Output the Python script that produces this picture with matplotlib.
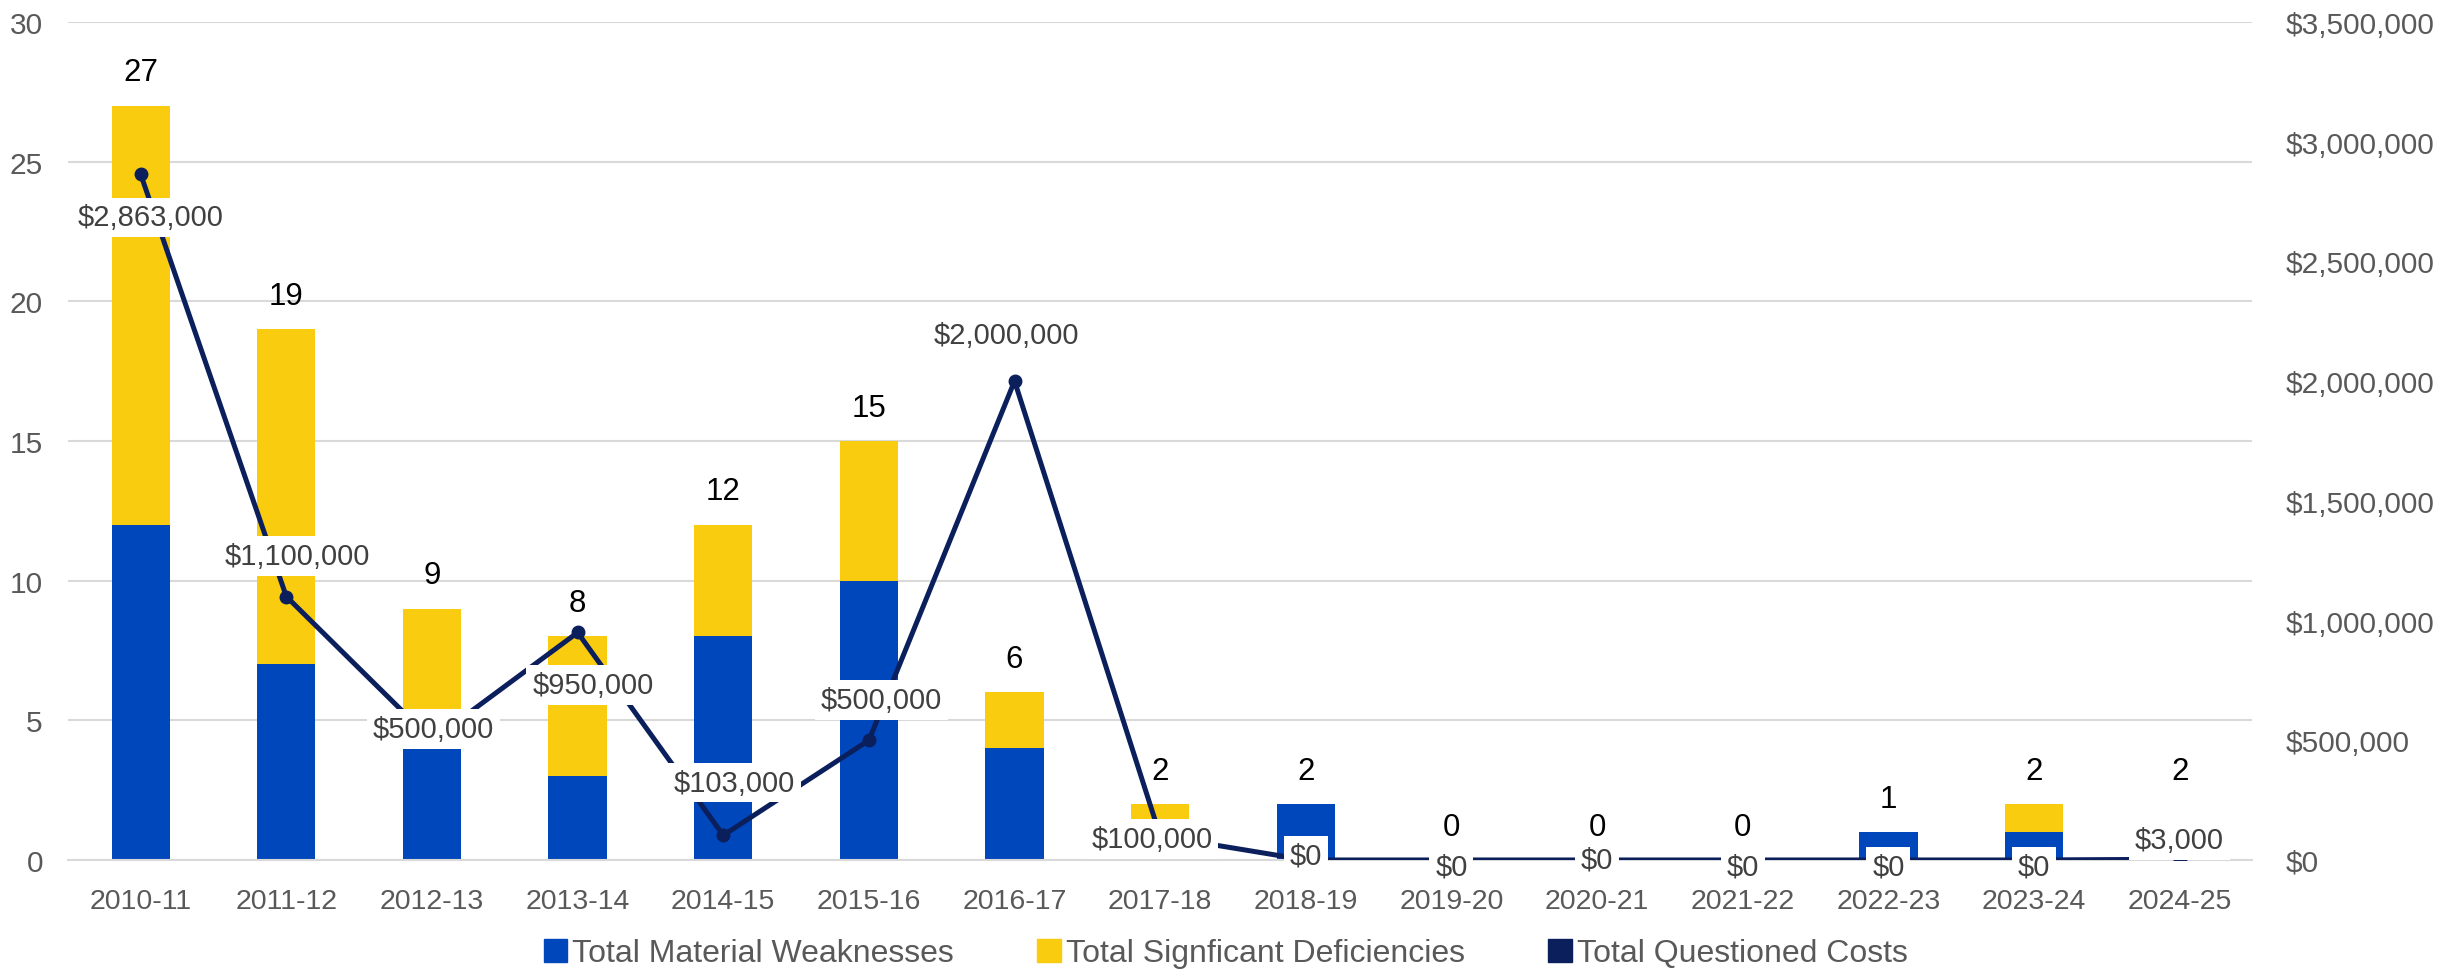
import matplotlib.pyplot as plt
import matplotlib.patches as mpatches
from matplotlib.ticker import FuncFormatter, MultipleLocator
import numpy as np

plt.rcParams['font.family'] = ['Liberation Sans', 'DejaVu Sans']

years = ['2010-11', '2011-12', '2012-13', '2013-14', '2014-15', '2015-16',
         '2016-17', '2017-18', '2018-19', '2019-20', '2020-21', '2021-22',
         '2022-23', '2023-24', '2024-25']
weaknesses = [12, 7, 4, 3, 8, 10, 4, 0.1, 2, 0, 0, 0, 1, 1, 0.05]
deficiencies = [15, 12, 5, 5, 4, 5, 2, 1.9, 0, 0, 0, 0, 0, 1, 0]
totals = [27, 19, 9, 8, 12, 15, 6, 2, 2, 0, 0, 0, 1, 2, 2]
costs = [2863000, 1100000, 500000, 950000, 103000, 500000, 2000000,
         100000, 0, 0, 0, 0, 0, 0, 3000]

# label offsets (points) for the cost labels
cost_offsets = [(7, -31), (8, 29), (1, 8), (11, -38), (8, 38), (9, 29),
                (-6, 33), (-6, -2), (0, 3), (0, -5), (0, 0), (0, -5),
                (0, -5), (0, -5), (0, 14)]

blue = '#0047BB'
yellow = '#FACC0F'
navy = '#0A1F5C'
grey = '#595959'

fig = plt.figure(figsize=(24.51, 9.70), dpi=100)
ax = fig.add_axes([0.0277, 0.1124, 0.8913, 0.864])
x = np.arange(len(years))

ax.bar(x, weaknesses, width=0.4, color=blue, zorder=2)
ax.bar(x, deficiencies, width=0.4, bottom=weaknesses, color=yellow, zorder=2)

for xi, t in zip(x, totals):
    ax.annotate(str(t), (xi, t), xytext=(0, 24), textcoords='offset points',
                ha='center', va='center', fontsize=22.5, color='black')

ax.set_xlim(-0.5, len(years) - 0.5)
ax.set_ylim(0, 30)
ax.yaxis.set_major_locator(MultipleLocator(5))
ax.grid(axis='y', color='#D9D9D9', lw=1.5, zorder=0)
ax.set_axisbelow(True)
ax.set_xticks(x)
ax.set_xticklabels(years)
ax.tick_params(axis='x', length=0, pad=20, labelsize=20.5, labelcolor=grey)
ax.tick_params(axis='y', length=0, pad=18, labelsize=21.5, labelcolor=grey)
for s in ax.spines.values():
    s.set_visible(False)
ax.spines['bottom'].set_visible(True)
ax.spines['bottom'].set_color('#D9D9D9')
ax.spines['bottom'].set_linewidth(1.5)

ax2 = ax.twinx()
ax2.plot(x, costs, color=navy, lw=3.6, marker='o', ms=9, zorder=3)
for xi, c, off in zip(x, costs, cost_offsets):
    ax2.annotate(f'${c:,.0f}', (xi, c), xytext=off, textcoords='offset points',
                 ha='center', va='center', fontsize=21, color='#404040',
                 bbox=dict(boxstyle='square,pad=0.2', fc='white', ec='none'),
                 zorder=4)
ax2.set_ylim(0, 3500000)
ax2.yaxis.set_major_locator(MultipleLocator(500000))
ax2.yaxis.set_major_formatter(FuncFormatter(lambda v, p: f'${v:,.0f}'))
ax2.tick_params(axis='y', length=0, pad=24, labelsize=21.5, labelcolor=grey)
for s in ax2.spines.values():
    s.set_visible(False)

handles = [mpatches.Patch(color=blue, label='Total Material Weaknesses'),
           mpatches.Patch(color=yellow, label='Total Signficant Deficiencies'),
           mpatches.Patch(color=navy, label='Total Questioned Costs')]
leg = fig.legend(handles=handles, loc='center', bbox_to_anchor=(0.5, 0.016),
                 ncol=3, frameon=False, fontsize=23, handlelength=0.75,
                 handleheight=0.75, handletextpad=0.15, columnspacing=2.6)
for t in leg.get_texts():
    t.set_color(grey)

fig.savefig('out.png', dpi=100)
